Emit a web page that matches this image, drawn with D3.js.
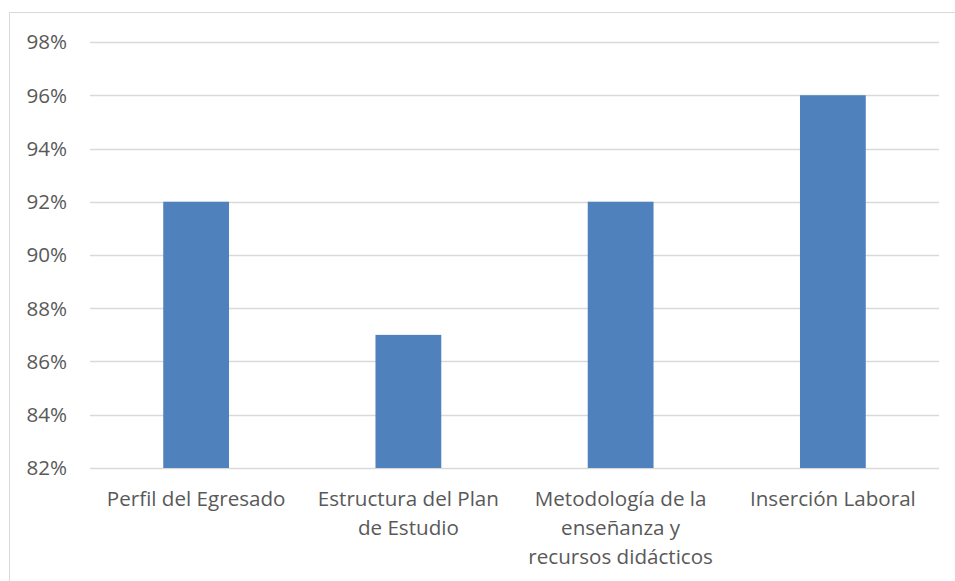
<!DOCTYPE html>
<html>
<head>
<meta charset="utf-8">
<script src="https://cdn.jsdelivr.net/npm/d3@7"></script>
<style>
  html, body { margin: 0; padding: 0; background: #fff; }
  svg { display: block; font-family: "Open Sans", sans-serif; }
</style>
</head>
<body>
<div id="chart-container"></div>
<script>
const categories = ["Perfil del Egresado", "Estructura del Plan de Estudio", "Metodología de la enseñanza y recursos didácticos", "Inserción Laboral"];
const values = [0.92, 0.87, 0.92, 0.96];
const yTicks = [0.82, 0.84, 0.86, 0.88, 0.90, 0.92, 0.94, 0.96, 0.98];

document.addEventListener('DOMContentLoaded', function(){
  drawChart();
});

function drawChart(){
  const svgWidth = 955, svgHeight = 581;
  const margin = {top: 42, right: 16, bottom: 113, left: 90};
  const width = svgWidth - margin.left - margin.right,
        height = svgHeight - margin.top - margin.bottom;
  const fontSize = "20.6px";

  const svg = d3.select("#chart-container").append("svg")
    .attr("width", svgWidth)
    .attr("height", svgHeight);

  // chart frame (cropped at right and bottom)
  svg.append("path")
    .attr("d", "M9.5," + svgHeight + "V12.5H" + svgWidth)
    .attr("fill", "none")
    .attr("stroke", "#d9d9d9")
    .attr("stroke-width", 1);

  const g = svg.append("g").attr("transform", `translate(${margin.left},${margin.top})`);

  const x = d3.scaleBand().domain(categories).range([0, width]).paddingInner(0.69).paddingOuter(0.345);
  const y = d3.scaleLinear().domain([0.82, 0.98]).range([height, 0]);

  //gridlines
  g.selectAll("line.grid")
    .data(yTicks)
    .enter().append("line")
    .attr("class", "grid")
    .attr("x1", 0).attr("x2", width)
    .attr("y1", d => Math.round(y(d)) + 0.5)
    .attr("y2", d => Math.round(y(d)) + 0.5)
    .attr("stroke", "#d9d9d9")
    .attr("stroke-width", 1.3);

  //y labels
  g.selectAll("text.ytick")
    .data(yTicks)
    .enter().append("text")
    .attr("class", "ytick")
    .attr("x", -23)
    .attr("y", d => y(d))
    .attr("dy", "0.36em")
    .attr("text-anchor", "end")
    .attr("fill", "#595959")
    .style("font-size", fontSize)
    .text(d => d3.format(".0%")(d));

  //bars
  g.selectAll("rect.bar")
    .data(values)
    .enter().append("rect")
    .attr("class", "bar")
    .attr("x", (d, i) => x(categories[i]))
    .attr("width", x.bandwidth())
    .attr("y", d => y(d))
    .attr("height", d => height - y(d))
    .attr("fill", "#4f81bd");

  //category labels
  const labels = g.selectAll("text.xtick")
    .data(categories)
    .enter().append("text")
    .attr("class", "xtick")
    .attr("text-anchor", "middle")
    .attr("fill", "#595959")
    .style("font-size", fontSize)
    .attr("transform", d => `translate(${x(d) + x.bandwidth() / 2},${height + 31})`);

  labels.each(function(d){
    wrap(d3.select(this), d, 200);
  });
}

function wrap(text, str, maxWidth){
  const words = str.split(/\s+/);
  let line = [];
  let lineNo = 0;
  let tspan = text.append("tspan").attr("x", 0).attr("y", 0).attr("dy", "0.36em");
  words.forEach(w => {
    line.push(w);
    tspan.text(line.join(" "));
    if (tspan.node().getComputedTextLength() > maxWidth && line.length > 1) {
      line.pop();
      tspan.text(line.join(" "));
      line = [w];
      lineNo++;
      tspan = text.append("tspan").attr("x", 0).attr("y", lineNo * 29).attr("dy", "0.36em").text(w);
    }
  });
}
</script>
</body>
</html>
